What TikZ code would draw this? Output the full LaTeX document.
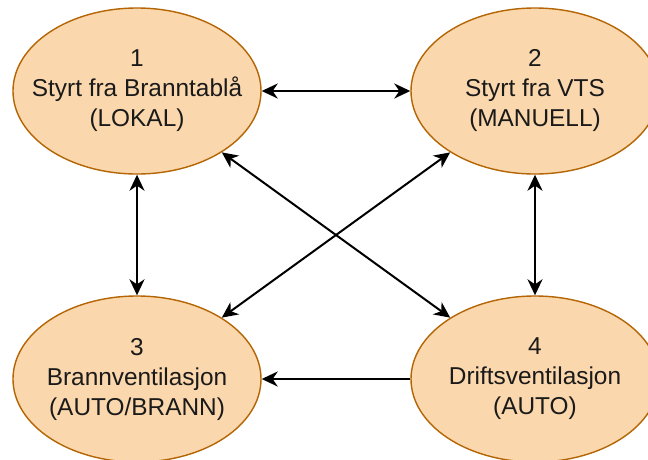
\documentclass[tikz,border=0pt]{standalone}
\usepackage{fontspec}
\setmainfont{Liberation Sans}
\usetikzlibrary{shapes.geometric,arrows.meta}
\definecolor{statefill}{HTML}{FAD7AC}
\definecolor{statedraw}{HTML}{B46504}
\definecolor{textdark}{HTML}{1A1A1A}
\begin{document}
\begin{tikzpicture}[x=1pt,y=-1pt,
  >={Stealth[length=16pt,width=15pt,inset=5pt]},
  state/.style={ellipse, draw=statedraw, fill=statefill, line width=1.4pt,
    minimum width=248pt, minimum height=166pt, inner sep=0pt},
  statetext/.style={align=center, text=textdark,
    font=\fontsize{24.4}{30}\selectfont},
  link/.style={line width=2pt, draw=black}]
  \clip (0,0) rectangle (648,459);
  \fill[white] (0,0) rectangle (648,459);

  % the four operating modes
  \node[state] (s1) at (137,91)  {};
  \node[state] (s2) at (535,91)  {};
  \node[state] (s3) at (137,379) {};
  \node[state] (s4) at (535,379) {};

  \node[statetext] (t1) at (s1.center) {1\\Styrt fra Branntablå\\(LOKAL)};
  \node[statetext] (t2) at (s2.center) {2\\Styrt fra VTS\\(MANUELL)};
  \node[statetext] (t3) at (s3.center) {3\\Brannventilasjon\\(AUTO/BRANN)};
  \node[statetext] (t4) at (s4.center) {4\\Driftsventilasjon\\(AUTO)};

  % transitions between modes
  \draw[link, <->] (s1) -- (s2);
  \draw[link, <->] (s1) -- (s3);
  \draw[link, <->] (s2) -- (s4);
  \draw[link, <->] (s1) -- (s4);
  \draw[link, <->] (s2) -- (s3);
  \draw[link, ->] (s4) -- (s3);
\end{tikzpicture}
\end{document}
